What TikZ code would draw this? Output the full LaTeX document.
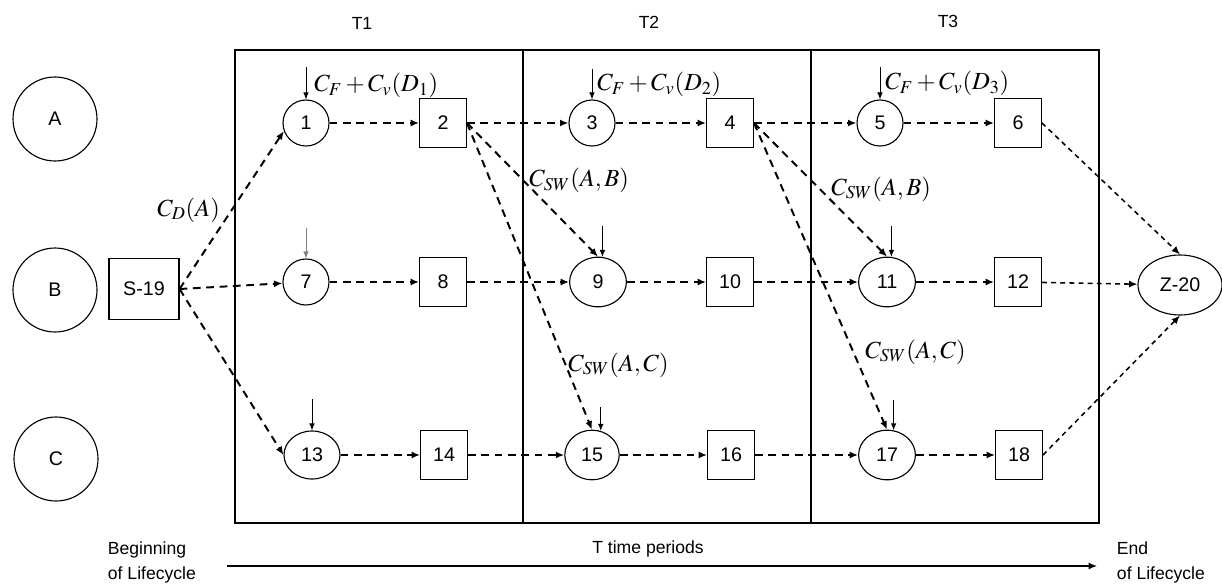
\documentclass[tikz,border=0pt]{standalone}
\usepackage{mathptmx}
\usepackage{fontspec}
\setmainfont{Liberation Sans}
\usetikzlibrary{arrows.meta,shapes.geometric}

\begin{document}
\begin{tikzpicture}[
  plant/.style={draw, circle, line width=0.8pt, minimum size=2.1cm, inner sep=0pt, font=\fontsize{14}{16}\selectfont},
  stage/.style={draw, circle, line width=0.8pt, minimum size=1.15cm, inner sep=0pt, font=\fontsize{14}{16}\selectfont},
  wstage/.style={draw, ellipse, line width=0.8pt, minimum width=1.42cm, minimum height=1.24cm, inner sep=0pt, font=\fontsize{14}{16}\selectfont},
  store/.style={draw, rectangle, line width=0.8pt, minimum width=1.17cm, minimum height=1.22cm, inner sep=0pt, font=\fontsize{14}{16}\selectfont},
  period/.style={font=\fontsize{12.5}{15}\selectfont},
  life/.style={anchor=west, align=left, font=\fontsize{12.5}{17.8}\selectfont},
  cost/.style={anchor=base west, inner sep=0pt, font=\fontsize{17.5}{20}\selectfont},
  flow/.style={-{Latex[length=6pt,width=5pt]}, line width=1.4pt, dash pattern=on 5.5pt off 4pt},
  endflow/.style={-{Latex[length=6pt,width=5pt]}, line width=1.1pt, dash pattern=on 3.5pt off 3pt},
  feed/.style={-{Latex[length=5pt,width=4pt]}, line width=0.7pt}
]
  \useasboundingbox (0,0) rectangle (30.55,14.625);
  \draw[line width=1pt] (5.875,1.55) rectangle (27.475,13.375);
  \draw[line width=1pt] (13.075,1.55) -- (13.075,13.375);
  \draw[line width=1pt] (20.275,1.55) -- (20.275,13.375);
  \node[period] (t1) at (9.05,14.05) {T1};
  \node[period] (t2) at (16.225,14.075) {T2};
  \node[period] (t3) at (23.7,14.1) {T3};

  \node[plant] (pa) at (1.375,11.65) {A};
  \node[plant] (pb) at (1.375,7.375) {B};
  \node[plant] (pc) at (1.4,3.15) {C};
  \node[store, minimum width=1.75cm, minimum height=1.53cm] (s19) at (3.6,7.4) {S-19};
  \node[draw, ellipse, line width=0.8pt, minimum width=2.1cm, minimum height=1.5cm, inner sep=0pt, font=\fontsize{14}{16}\selectfont] (z20) at (29.5,7.5) {Z-20};

  \node[stage] (n1) at (7.65,11.55) {1};
  \node[store] (n2) at (11.075,11.55) {2};
  \node[stage] (n3) at (14.8,11.55) {3};
  \node[store] (n4) at (18.25,11.55) {4};
  \node[stage] (n5) at (22,11.55) {5};
  \node[store] (n6) at (25.45,11.55) {6};

  \node[stage] (n7) at (7.65,7.575) {7};
  \node[store] (n8) at (11.075,7.575) {8};
  \node[wstage] (n9) at (14.95,7.575) {9};
  \node[store] (n10) at (18.25,7.575) {10};
  \node[wstage] (n11) at (22.175,7.575) {11};
  \node[store] (n12) at (25.45,7.575) {12};

  \node[wstage, minimum width=1.4cm, minimum height=1.2cm] (n13) at (7.8,3.25) {13};
  \node[store] (n14) at (11.1,3.25) {14};
  \node[wstage, minimum width=1.36cm] (n15) at (14.8,3.25) {15};
  \node[store] (n16) at (18.275,3.25) {16};
  \node[wstage] (n17) at (22.175,3.25) {17};
  \node[store] (n18) at (25.475,3.25) {18};

  \node[cost] (cf1) at (7.85,12.325) {$C_F+C_v(D_1)$};
  \node[cost] (cf2) at (14.925,12.35) {$C_F+C_v(D_2)$};
  \node[cost] (cf3) at (22.125,12.375) {$C_F+C_v(D_3)$};
  \node[cost] (cd) at (3.925,9.225) {$C_D(A)$};
  \node[cost] (swab1) at (13.225,9.95) {$C_{SW}(A,B)$};
  \node[cost] (swab2) at (20.775,9.75) {$C_{SW}(A,B)$};
  \node[cost] (swac1) at (14.2,5.35) {$C_{SW}(A,C)$};
  \node[cost] (swac2) at (21.625,5.675) {$C_{SW}(A,C)$};

  \draw[feed] ([yshift=0.8cm]n1.north) -- (n1.north);
  \draw[feed] ([yshift=0.75cm]n3.north) -- (n3.north);
  \draw[feed] ([yshift=0.8cm]n5.north) -- (n5.north);
  \draw[feed, gray] ([yshift=0.75cm]n7.north) -- (n7.north);
  \draw[feed] ([yshift=0.78cm]n9.80) -- (n9.80);
  \draw[feed] ([yshift=0.78cm]n11.80) -- (n11.80);
  \draw[feed] ([yshift=0.78cm]n13.north) -- (n13.north);
  \draw[feed] ([yshift=0.6cm]n15.70) -- (n15.70);
  \draw[feed] ([yshift=0.75cm]n17.75) -- (n17.75);

  \draw[flow] (s19.east) -- (n1.200);
  \draw[flow] (s19.east) -- (n7);
  \draw[flow] (s19.east) -- (n13.west);

  \draw[flow] (n1) -- (n2);
  \draw[flow] (n2) -- (n3);
  \draw[flow] (n3) -- (n4);
  \draw[flow] (n4) -- (n5);
  \draw[flow] (n5) -- (n6);
  \draw[flow] (n7) -- (n8);
  \draw[flow] (n8) -- (n9);
  \draw[flow] (n9) -- (n10);
  \draw[flow] (n10) -- (n11);
  \draw[flow] (n11) -- (n12);
  \draw[flow] (n13) -- (n14);
  \draw[flow] (n14) -- (n15);
  \draw[flow] (n15) -- (n16);
  \draw[flow] (n16) -- (n17);
  \draw[flow] (n17) -- (n18);

  \draw[flow] (n2.east) -- (n9.north);
  \draw[flow] (n2.east) -- (n15.north);
  \draw[flow] (n4.east) -- (n11.north);
  \draw[flow] (n4.east) -- (n17.north);

  \draw[endflow] (n6.east) -- (z20.north);
  \draw[endflow] (n12) -- (z20);
  \draw[endflow] (n18.east) -- (z20.south);

  \node[life] (begin) at (2.575,0.56) {Beginning\\of Lifecycle};
  \node[life] (finish) at (27.8,0.56) {End\\of Lifecycle};
  \node[period] (span) at (16.2,0.9) {T time periods};
  \coordinate (tstart) at (5.675,0.475);
  \coordinate (tend) at (27.425,0.475);
  \draw[-{Latex[length=6pt,width=5pt]}, line width=0.9pt] (tstart) -- (tend);
\end{tikzpicture}
\end{document}
